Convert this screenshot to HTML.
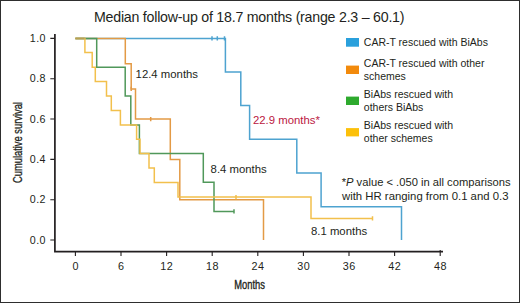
<!DOCTYPE html>
<html>
<head>
<meta charset="utf-8">
<style>
html,body{margin:0;padding:0;background:#fff;}
body{width:520px;height:303px;overflow:hidden;position:relative;}
svg{position:absolute;left:0;top:0;}
text{font-family:"Liberation Sans",sans-serif;fill:#231f20;}
</style>
</head>
<body>
<svg width="520" height="303" viewBox="0 0 520 303">
<rect x="0.5" y="0.5" width="519" height="302" fill="#fff" stroke="#2e2e2e" stroke-width="1"/>

<!-- title -->
<text x="94" y="21.8" font-size="14.2" letter-spacing="-0.23">Median follow-up of 18.7 months (range 2.3 – 60.1)</text>

<!-- axes -->
<g stroke="#231f20" stroke-width="1.1" fill="none">
  <path stroke-width="1.7" d="M54.9 34 V251.6 H443"/>
  <path d="M50.3 38.4 H54.8 M50.3 78.7 H54.8 M50.3 119 H54.8 M50.3 159.4 H54.8 M50.3 199.7 H54.8 M50.3 240 H54.8"/>
  <path d="M75.4 251 V256 M121 251 V256 M166.6 251 V256 M212.2 251 V256 M257.8 251 V256 M303.4 251 V256 M349 251 V256 M394.6 251 V256 M440.2 250 V256"/>
</g>

<!-- y labels -->
<g font-size="10.7" text-anchor="end" letter-spacing="0.45" transform="translate(0.45 0.1)">
  <text x="45.5" y="41.9">1.0</text>
  <text x="45.5" y="82.2">0.8</text>
  <text x="45.5" y="122.5">0.6</text>
  <text x="45.5" y="162.9">0.4</text>
  <text x="45.5" y="203.2">0.2</text>
  <text x="45.5" y="243.5">0.0</text>
</g>
<!-- x labels -->
<g font-size="10.8" text-anchor="middle" letter-spacing="0.5" transform="translate(0.25 0.7)">
  <text x="75.4" y="269.5">0</text>
  <text x="121" y="269.5">6</text>
  <text x="166.6" y="269.5">12</text>
  <text x="212.2" y="269.5">18</text>
  <text x="257.8" y="269.5">24</text>
  <text x="303.4" y="269.5">30</text>
  <text x="349" y="269.5">36</text>
  <text x="394.6" y="269.5">42</text>
  <text x="440.2" y="269.5">48</text>
</g>

<text x="0" y="0" font-size="12" stroke="#231f20" stroke-width="0.35" transform="translate(249.6 288.7) scale(0.78 1)" text-anchor="middle">Months</text>
<text x="0" y="0" font-size="12.2" stroke="#231f20" stroke-width="0.3" transform="translate(21.6 142.5) rotate(-90) scale(0.765 1)" text-anchor="middle">Cumulative survival</text>

<!-- curves -->
<g fill="none" stroke-width="1.5" stroke-linejoin="miter">
  <!-- blue -->
  <path stroke="#4ea3d0" d="M75.4 38.4 H225.4 V71.9 H240.8 V105.5 H249.6 V139.3 H296.8 V173.1 H321.1 V206.8 H401.5 V240"/>
  <path stroke="#4ea3d0" d="M212 36.2 V40.6 M217.3 36.2 V40.6 M224.5 36.2 V40.6"/>
  <!-- orange -->
  <path stroke="#e39a45" d="M75.4 38.4 H125.3 V63.8 H131.2 V88.9 H135.5 V119.1 H170.3 V159.4 H179.8 V199.7 H263.5 V240"/>
  <path stroke="#e39a45" d="M131.2 86.7 V91.1 M150.7 116.9 V121.3"/>
  <!-- green -->
  <path stroke="#50985a" d="M75.4 38.4 H96.7 V67.3 H125.2 V96.1 H130.8 V124.9 H139.4 V153.6 H203.3 V182.3 H214 V211.4 H234"/>
  <path stroke="#50985a" d="M234 209.2 V213.6"/>
  <!-- yellow -->
  <path stroke="#f2c04c" d="M75.4 38.4 H84.9 V52.5 H92.2 V67.3 H95.3 V81.6 H106.5 V96.1 H111.3 V110.4 H120.4 V124.9 H136.6 V139.3 H140 V153.6 H149 V168.1 H154.3 V182.4 H178 V197.1 H311 V218.5 H372.5"/>
  <path stroke="#f2c04c" d="M236 194.9 V199.3 M372.5 216.2 V220.6"/>
  <path stroke="#b8a055" d="M75.4 38.4 H84.6"/>
</g>

<!-- annotations -->
<g font-size="11.35">
  <text x="135.6" y="77.7">12.4 months</text>
  <text x="210.6" y="172.8">8.4 months</text>
  <text x="311" y="234.8">8.1 months</text>
  <text x="253" y="123.8" style="fill:#bb173f">22.9 months*</text>
  <text x="341.7" y="186" font-size="11.2">*<tspan font-style="italic">P</tspan> value &lt; .050 in all comparisons</text>
  <text x="342" y="199.8">with HR ranging from 0.1 and 0.3</text>
</g>

<!-- legend -->
<rect x="346" y="38" width="13" height="8.7" fill="#2aa0dc"/>
<rect x="346" y="65.6" width="13" height="8.4" fill="#f28a0c"/>
<rect x="346" y="96.6" width="13" height="8.4" fill="#2eaa2e"/>
<rect x="346" y="128.1" width="13" height="8.3" fill="#fcc00a"/>
<g font-size="10.5">
  <text x="363.8" y="45.9">CAR-T rescued with BiAbs</text>
  <text x="363.8" y="67">CAR-T rescued with other</text>
  <text x="363.8" y="79.5">schemes</text>
  <text x="363.8" y="98.2">BiAbs rescued with</text>
  <text x="363.8" y="111">others BiAbs</text>
  <text x="363.8" y="129.4">BiAbs rescued with</text>
  <text x="363.8" y="141.8">other schemes</text>
</g>
</svg>
</body>
</html>
